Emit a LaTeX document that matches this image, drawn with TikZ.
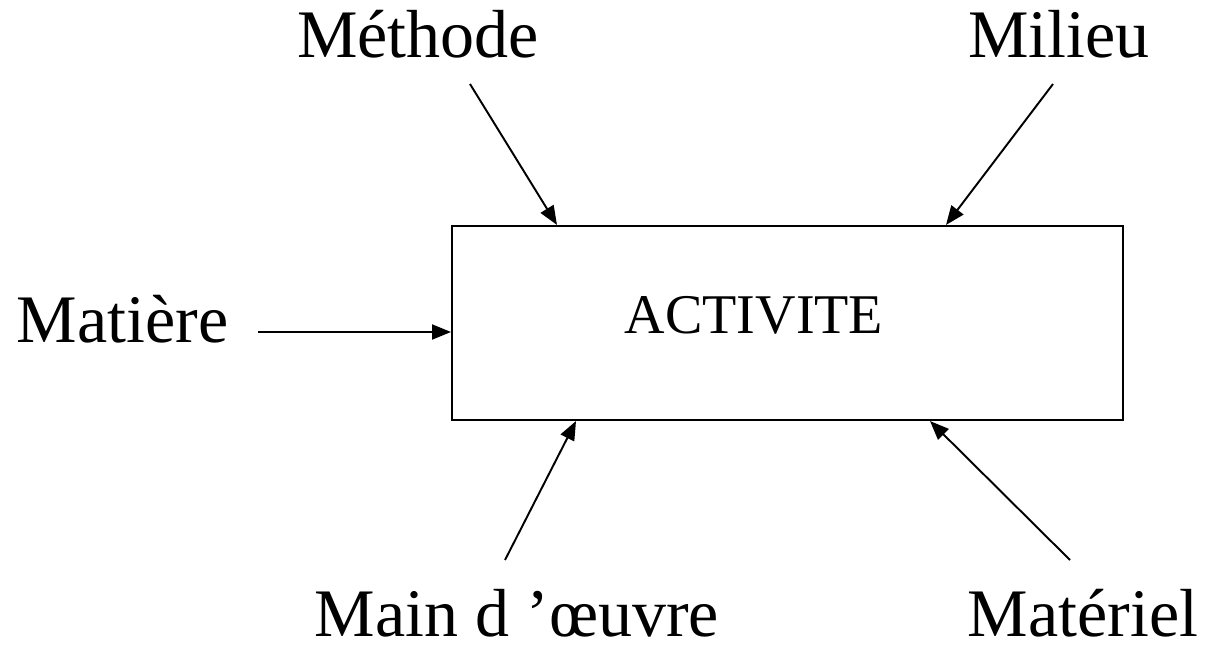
\documentclass[tikz,border=0pt]{standalone}
\usepackage{fontspec}
\setmainfont{Liberation Serif}
\usepackage{tikz}
\usetikzlibrary{arrows.meta}

\tikzset{
    lbl/.style={anchor=base, inner sep=0pt, font=\fontsize{38.7}{46}\selectfont},
    fleche/.style={-{Triangle[length=0.38cm, width=0.3cm]}, line width=1.1pt}
}

\begin{document}
\begin{tikzpicture}[x=0.02cm, y=-0.02cm]
        \useasboundingbox (0, 0) rectangle (1207, 646);

        \node[draw, line width=1.2pt, minimum width=13.42cm, minimum height=3.88cm, inner sep=0pt] (activite) at (787.5, 323) {};
        \node[anchor=base, inner sep=0pt, font=\fontsize{31.9}{38}\selectfont] (txt) at (754, 333) {ACTIVITE};

        \node[lbl] (methode) at (418, 57) {Méthode};
        \node[lbl] (milieu) at (1059, 57) {Milieu};
        \node[lbl] (matiere) at (122.5, 342) {Matière};
        \node[lbl] (main) at (517, 636) {Main d ’œuvre};
        \node[lbl] (materiel) at (1083, 636) {Matériel};

        \coordinate (m1) at (470, 84);
        \coordinate (m2) at (1053, 84);
        \coordinate (m3) at (258, 332);
        \coordinate (m4) at (505, 560);
        \coordinate (m5) at (1070, 560);

        \draw[fleche] (m1) to (activite.north west -| 557, 0);
        \draw[fleche] (m2) to (activite.north west -| 946, 0);
        \draw[fleche] (m3) to (activite.west |- 0, 332);
        \draw[fleche] (m4) to (activite.south west -| 576, 0);
        \draw[fleche] (m5) to (activite.south west -| 930, 0);
    \end{tikzpicture}
\end{document}
